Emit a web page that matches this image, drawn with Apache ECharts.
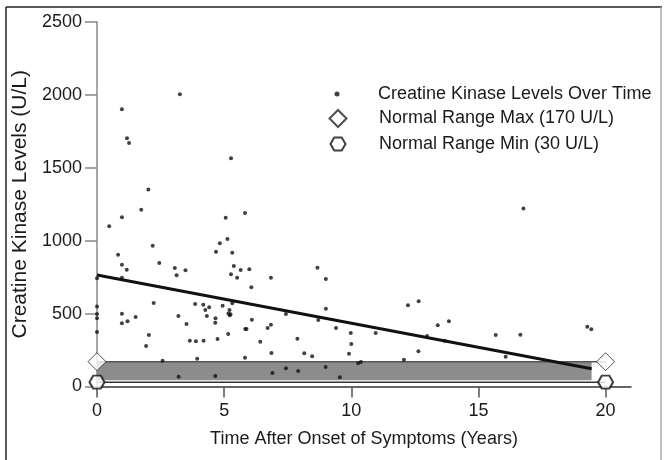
<!DOCTYPE html>
<html><head><meta charset="utf-8">
<script src="https://cdn.jsdelivr.net/npm/echarts@6/dist/echarts.min.js"></script>
<style>html,body{margin:0;padding:0;background:#fff}#c{width:665px;height:460px}</style>
</head><body><div id="c"></div>
<script>
// Creatine kinase observations (years after onset, U/L)
const ckTime = [3.26,0.98,1.18,1.26,5.27,2.02,1.74,0.98,0.48,5.06,5.82,2.19,0.83,0.98,1.17,0.98,0.00,2.45,3.06,3.13,3.48,5.13,4.83,4.68,5.32,5.38,5.65,5.99,5.27,5.51,6.07,6.84,0.00,0.00,0.00,0.00,0.98,0.98,1.20,1.52,2.23,2.04,1.93,2.58,3.20,3.52,3.86,4.18,4.41,4.26,4.32,4.66,4.65,4.94,5.32,5.21,5.17,5.22,5.25,5.16,3.65,3.89,4.19,4.74,3.94,5.83,5.88,6.09,6.71,6.84,6.42,6.86,5.82,6.90,3.21,4.65,8.67,9.00,9.00,7.43,8.70,9.40,9.98,10.00,9.91,10.96,7.88,8.15,8.46,7.43,7.91,8.99,9.55,10.27,10.38,12.07,12.23,12.65,12.64,12.98,13.40,13.84,13.67,15.68,16.65,19.28,19.44,16.07,16.77];
const ckLevel = [2004,1901,1702,1670,1565,1352,1213,1160,1099,1158,1190,966,904,835,801,746,742,847,813,763,797,1012,982,925,918,826,799,804,770,746,680,746,548,497,468,374,499,433,447,477,573,353,278,177,484,429,566,561,543,525,484,468,438,554,571,525,500,488,495,360,314,310,314,326,191,394,394,458,401,424,307,230,198,93,67,72,815,737,534,497,456,401,367,291,225,367,328,228,207,125,106,134,63,159,168,184,557,584,241,346,420,447,314,353,355,410,392,204,1221];
// Regression trend endpoints
const trendTime = [0, 19.45];
const trendLevel = [765, 122];
// Normal range reference markers
const rangeTime = [0, 20];
const rangeMax = [170, 170];
const rangeMin = [30, 30];
// Shaded normal band
const bandTime = [0, 19.45];
const bandLevel = [43, 170];
// Ticks
const xTicks = [0, 5, 10, 15, 20];
const yTicks = [0, 500, 1000, 1500, 2000, 2500];
const seriesNames = ['Creatine Kinase Levels Over Time', 'Normal Range Max (170 U/L)', 'Normal Range Min (30 U/L)'];
const axisTitles = ['Time After Onset of Symptoms (Years)', 'Creatine Kinase Levels (U/L)'];

const FONT = 'Liberation Sans';
const hexPath = 'path://M0,50 L25,7 L75,7 L100,50 L75,93 L25,93 Z';
const zip = (a, b) => a.map((v, i) => [v, b[i]]);

function legendText(padLeft) {
  return {fontFamily: FONT, fontSize: 18, color: '#1a1a1a', padding: [0, 0, 0, padLeft]};
}

const chart = echarts.init(document.getElementById('c'), null, {renderer: 'canvas'});
chart.setOption({
  animation: false,
  backgroundColor: '#fff',
  grid: {left: 97, right: 34, top: 22, bottom: 73.5},
  legend: [
    {data: [seriesNames[0]], left: 334.5, top: 85, padding: 0, itemWidth: 5, itemHeight: 5, symbolKeepAspect: true, textStyle: legendText(33.5), selectedMode: false},
    {data: [seriesNames[1]], left: 328.5, top: 109, padding: 0, itemWidth: 17, itemHeight: 17, symbolKeepAspect: true, textStyle: legendText(27.5), selectedMode: false},
    {data: [seriesNames[2]], left: 329.5, top: 135, padding: 0, itemWidth: 15, itemHeight: 13, symbolKeepAspect: true, textStyle: legendText(28.5), selectedMode: false}
  ],
  xAxis: {
    type: 'value', min: 0, max: 21, interval: 5,
    name: axisTitles[0], nameLocation: 'middle', nameGap: 44,
    nameTextStyle: {fontFamily: FONT, fontSize: 18, color: '#1a1a1a'},
    axisLine: {lineStyle: {color: '#333', width: 1.5}},
    axisTick: {customValues: xTicks, length: 11, lineStyle: {color: '#555', width: 1.5}},
    axisLabel: {customValues: xTicks, margin: 16, fontFamily: FONT, fontSize: 18, color: '#1a1a1a'},
    splitLine: {show: false}
  },
  yAxis: {
    type: 'value', min: 0, max: 2500, interval: 500,
    name: axisTitles[1], nameLocation: 'middle', nameGap: 56,
    nameTextStyle: {fontFamily: FONT, fontSize: 21, color: '#1a1a1a'},
    axisLine: {show: true, lineStyle: {color: '#888', width: 1.5}},
    axisTick: {show: true, customValues: yTicks, length: 12, lineStyle: {color: '#888', width: 1.5}},
    axisLabel: {customValues: yTicks, margin: 15, fontFamily: FONT, fontSize: 18, color: '#1a1a1a',
      formatter: v => String(v)},
    splitLine: {show: false}
  },
  graphic: [
    {type: 'line', shape: {x1: 6, y1: 7, x2: 662, y2: 7}, style: {stroke: '#222', lineWidth: 1.5}, silent: true},
    {type: 'line', shape: {x1: 6, y1: 7, x2: 6, y2: 470}, style: {stroke: '#222', lineWidth: 1.5}, silent: true},
    {type: 'line', shape: {x1: 661, y1: 7, x2: 661, y2: 470}, style: {stroke: '#aaa', lineWidth: 1.5}, silent: true}
  ],
  series: [
    {
      type: 'line', data: zip(rangeTime, rangeMin), symbol: 'none', silent: true, z: 2,
      lineStyle: {color: '#333', width: 1.5},
      markArea: {
        silent: true,
        itemStyle: {color: '#8c8c8c'},
        data: [[{xAxis: bandTime[0], yAxis: bandLevel[0]}, {xAxis: bandTime[1], yAxis: bandLevel[1]}]]
      }
    },
    {
      type: 'line', data: zip(rangeTime, rangeMax), symbol: 'none', silent: true, z: 2,
      lineStyle: {color: '#555', width: 1.5}
    },
    {
      name: seriesNames[0], type: 'scatter', data: zip(ckTime, ckLevel), symbol: 'circle', symbolSize: 4, z: 3,
      itemStyle: {color: '#111'}
    },
    {
      type: 'line', data: zip(trendTime, trendLevel), symbol: 'none', silent: true, z: 4,
      lineStyle: {color: '#111', width: 3}
    },
    {
      name: seriesNames[1], type: 'scatter', data: zip(rangeTime, rangeMax), symbol: 'diamond', symbolSize: [18, 18], z: 5,
      itemStyle: {color: '#fff', borderColor: '#222', borderWidth: 1}
    },
    {
      name: seriesNames[2], type: 'scatter', data: zip(rangeTime, rangeMin), symbol: hexPath, symbolSize: [15, 13], symbolKeepAspect: false, z: 5,
      itemStyle: {color: '#fff', borderColor: '#111', borderWidth: 2}
    }
  ]
});
</script>
</body></html>
